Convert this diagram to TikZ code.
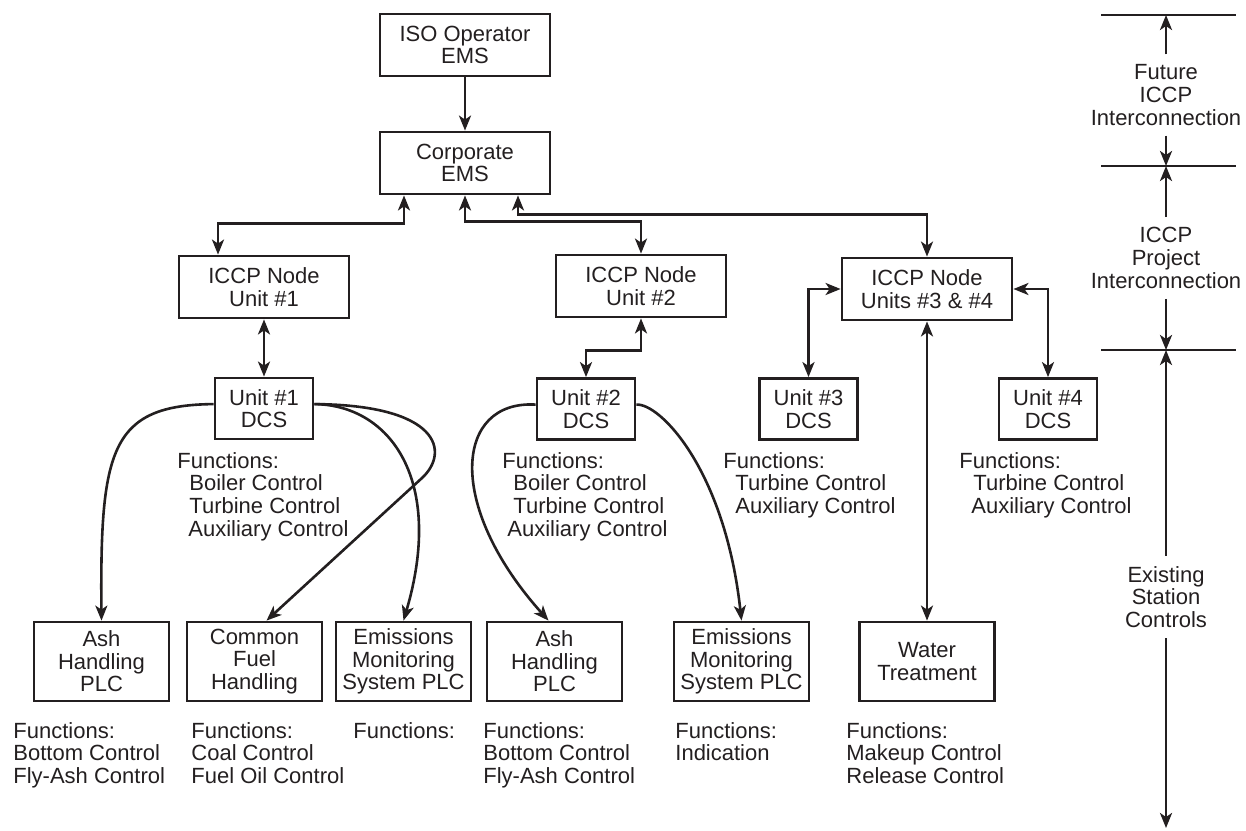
\documentclass[tikz,border=0pt]{standalone}
\usepackage{fontspec}
\setmainfont{Liberation Sans}
\usetikzlibrary{arrows.meta,calc}
\definecolor{ink}{RGB}{35,31,32}
\begin{document}
\begin{tikzpicture}[x=0.5pt,y=-0.5pt,
  every node/.style={font=\fontsize{11}{11.3}\selectfont, text=ink},
  box/.style={draw=ink, line width=1.4pt, align=center, inner sep=0pt},
  wide/.style={box, minimum width=85pt, minimum height=31pt},
  dcsbox/.style={box, minimum width=49pt, minimum height=30.5pt},
  plcbox/.style={box, minimum width=67.5pt, minimum height=39.5pt},
  fn/.style={anchor=north west, align=left, inner sep=0pt},
  tag/.style={align=center, inner xsep=0pt, inner ysep=5pt},
  tip/.tip={Stealth[length=7.5pt,width=6pt,inset=2pt]},
  link/.style={draw=ink, line width=1.3pt, -tip},
  both/.style={draw=ink, line width=1.3pt, tip-tip},
  rule/.style={draw=ink, line width=1.3pt}]

\useasboundingbox (0,0) rectangle (1246,830);

% upper control levels
\node[wide] (iso)  at (465,45)  {ISO Operator\\EMS};
\node[wide] (corp) at (465,163) {Corporate\\EMS};
\node[wide] (iccp1)  at (264,287) {ICCP Node\\Unit \#1};
\node[wide] (iccp2)  at (641,286) {ICCP Node\\Unit \#2};
\node[wide] (iccp34) at (927,289) {ICCP Node\\Units \#3 \& \#4};

% unit DCS level
\node[dcsbox] (dcs1) at (264,408.5)  {Unit \#1\\DCS};
\node[dcsbox] (dcs2) at (586,409)    {Unit \#2\\DCS};
\node[dcsbox] (dcs3) at (808.5,409)  {Unit \#3\\DCS};
\node[dcsbox] (dcs4) at (1048,409)   {Unit \#4\\DCS};

\node[fn] (f1) at (177,452) {Functions:\\\hspace*{6pt}Boiler Control\\\hspace*{6pt}Turbine Control\\\hspace*{5.5pt}Auxiliary Control};
\node[fn] (f2) at (502,452) {Functions:\\\hspace*{5.5pt}Boiler Control\\\hspace*{5.5pt}Turbine Control\\\hspace*{2.5pt}Auxiliary Control};
\node[fn] (f3) at (723,452) {Functions:\\\hspace*{6pt}Turbine Control\\\hspace*{6pt}Auxiliary Control};
\node[fn] (f4) at (959,452) {Functions:\\\hspace*{7pt}Turbine Control\\\hspace*{6pt}Auxiliary Control};

% station PLC level
\node[plcbox] (ash1)  at (101.5,661.5) {Ash\\Handling\\PLC};
\node[plcbox] (fuel)  at (254.5,661.5) {Common\\Fuel\\Handling};
\node[plcbox] (em1)   at (403.5,661.5) {Emissions\\Monitoring\\System PLC};
\node[plcbox] (ash2)  at (554.5,661.5) {Ash\\Handling\\PLC};
\node[plcbox] (em2)   at (741.5,661.5) {Emissions\\Monitoring\\System PLC};
\node[plcbox] (water) at (927,661.5)   {Water\\Treatment};

\node[fn] (g1) at (13,722)  {Functions:\\Bottom Control\\Fly-Ash Control};
\node[fn] (g2) at (191,722) {Functions:\\Coal Control\\Fuel Oil Control};
\node[fn] (g3) at (353,722) {Functions:};
\node[fn] (g4) at (483,722) {Functions:\\Bottom Control\\Fly-Ash Control};
\node[fn] (g5) at (675,722) {Functions:\\Indication};
\node[fn] (g6) at (846,722) {Functions:\\Makeup Control\\Release Control};

% network links
\draw[link] (iso.south) -- (corp.north);
\draw[both] ($(corp.south)+(-61,0)$) -- ++(0,28) -| (iccp1.north -| 218,0);
\draw[both] (corp.south) -- ++(0,26) -| (iccp2.north);
\draw[both] ($(corp.south)+(53,0)$) -- ++(0,19) -| (iccp34.north);

\draw[both] (iccp1.south) -- (dcs1.north);
\draw[both] (iccp2.south) -- ++(0,32) -| (dcs2.north);
\draw[both] (iccp34.west) -| (dcs3.north);
\draw[both] (iccp34.east) -| (dcs4.north);
\draw[both] (iccp34.south) -- (water.north);

% DCS to PLC links
\coordinate (bend) at (422,478);
\draw[link] (dcs1.175) .. controls (110,405) and (100,450) .. (ash1.north);
\draw[link] (dcs1.5) .. controls (390,405) and (445,480) .. (em1.north);
\draw[link] (dcs1.5) .. controls (440,405) and (450,452) .. (bend) -- ($(fuel.north)+(12,0)$);
\draw[link] (dcs2.175) .. controls (455,400) and (445,505) .. ($(ash2.north)+(-6,0)$);
\draw[link] (dcs2.5) .. controls (660,403) and (725,470) .. (em2.north);

% scale of interconnection levels
\coordinate (m1) at (1166,15);
\coordinate (m2) at (1166,166);
\coordinate (m3) at (1166,350);
\coordinate (mend) at (1166,828);
\draw[rule] (1101,15) -- (1236,15);
\draw[rule] (1101,166) -- (1236,166);
\draw[rule] (1101,350) -- (1236,350);

\node[tag] (fut)   at (1166,95)  {Future\\ICCP\\Interconnection};
\node[tag] (proj)  at (1166,258) {ICCP\\Project\\Interconnection};
\node[tag] (exist) at (1166,597) {Existing\\Station\\Controls};

\draw[link] (fut.north) -- (m1);
\draw[link] (fut.south) -- (m2);
\draw[link] (proj.north) -- (m2);
\draw[link] (proj.south) -- (m3);
\draw[link] (exist.north) -- (m3);
\draw[link] (exist.south) -- (mend);
\end{tikzpicture}
\end{document}
